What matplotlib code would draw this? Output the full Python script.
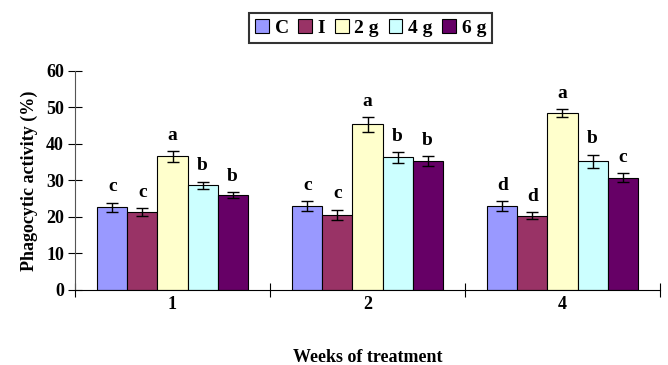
import numpy as np
import matplotlib
matplotlib.use('Agg')
import matplotlib.pyplot as plt

weeks = ['1', '2', '4']
groups = ['C', 'I', '2 g', '4 g', '6 g']
colors = ['#9999FF', '#993366', '#FFFFCC', '#CCFFFF', '#660066']

# mean values per group for each week
c_vals = [22.7, 23.0, 23.0]
i_vals = [21.3, 20.6, 20.4]
g2_vals = [36.6, 45.4, 48.5]
g4_vals = [28.7, 36.3, 35.3]
g6_vals = [26.0, 35.3, 30.8]

c_err = [1.2, 1.3, 1.3]
i_err = [1.1, 1.4, 0.9]
g2_err = [1.5, 2.0, 1.0]
g4_err = [1.0, 1.4, 1.8]
g6_err = [0.9, 1.4, 1.3]

c_let = ['c', 'c', 'd']
i_let = ['c', 'c', 'd']
g2_let = ['a', 'a', 'a']
g4_let = ['b', 'b', 'b']
g6_let = ['b', 'b', 'c']

values = [c_vals, i_vals, g2_vals, g4_vals, g6_vals]
errors = [c_err, i_err, g2_err, g4_err, g6_err]
letters = [c_let, i_let, g2_let, g4_let, g6_let]

plt.rcParams['font.family'] = ['Liberation Serif', 'DejaVu Serif']
plt.rcParams['font.weight'] = 'bold'

fig = plt.figure(figsize=(6.68, 3.65), dpi=100)
ax = fig.add_axes([0.1123, 0.2055, 0.8757, 0.6])

x = np.arange(len(weeks))
w = 0.154
for k in range(len(groups)):
    pos = x + (k - 2) * w
    ax.bar(pos, values[k], w, color=colors[k], edgecolor='black', linewidth=0.8,
           label=groups[k], zorder=2)
    ax.errorbar(pos, values[k], yerr=errors[k], fmt='none', ecolor='black',
                elinewidth=1.0, capsize=4, capthick=1.0, zorder=3)
    for p, v, e, t in zip(pos, values[k], errors[k], letters[k]):
        ax.text(p, v + e + 2.0, t, ha='center', va='bottom', fontsize=14,
                fontweight='bold')

ax.set_xlim(-0.5, 2.5)
ax.set_ylim(0, 60)
ax.set_yticks(range(0, 61, 10))
ax.set_xticks(x)
ax.set_xticklabels(weeks)
ax.set_xticks([-0.5, 0.5, 1.5, 2.5], minor=True)
ax.tick_params(axis='x', which='major', length=0, pad=4, labelsize=13)
ax.tick_params(axis='x', which='minor', direction='inout', length=10, width=0.8)
ax.tick_params(axis='y', direction='inout', length=10, width=0.8, labelsize=13,
               pad=3)
for lab in ax.get_xticklabels() + ax.get_yticklabels():
    lab.set_fontweight('bold')

ax.spines['top'].set_visible(False)
ax.spines['right'].set_visible(False)
ax.spines['left'].set_color('#555555')
ax.spines['left'].set_linewidth(0.8)
ax.spines['bottom'].set_linewidth(0.8)

ax.set_ylabel('Phagocytic activity (%)', fontsize=13, fontweight='bold', labelpad=6)
ax.set_xlabel('Weeks of treatment', fontsize=13, fontweight='bold', labelpad=26)

leg = fig.legend(loc='upper center', bbox_to_anchor=(0.555, 0.99), ncol=5,
                 frameon=True, fancybox=False, edgecolor='black',
                 handlelength=0.7, handleheight=0.7, handletextpad=0.3,
                 columnspacing=0.5, borderpad=0.3,
                 prop={'weight': 'bold', 'size': 14})
leg.get_frame().set_linewidth(1.5)

fig.savefig('out.png', dpi=100)
